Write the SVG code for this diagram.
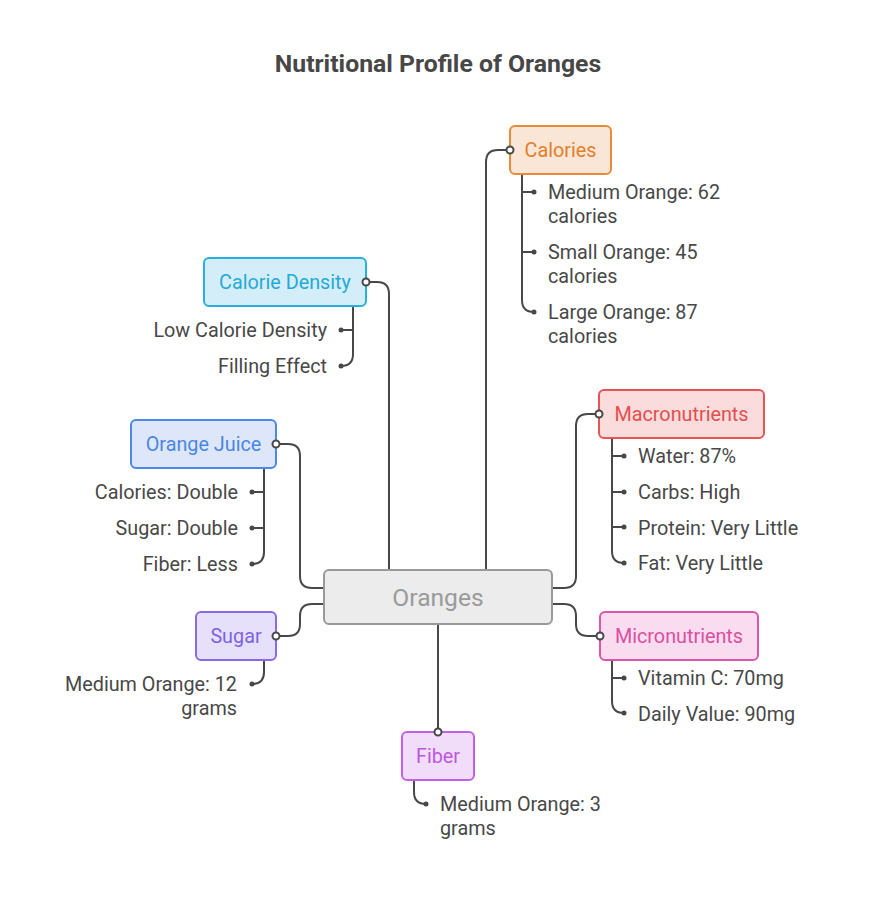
<svg xmlns="http://www.w3.org/2000/svg" width="876" height="918" viewBox="0 0 876 918">
<style>
text{font-family:Roboto,"Liberation Sans",sans-serif}
.title{font-size:24.8px;font-weight:bold;fill:#474747;text-anchor:middle}
.lbl{font-size:19.8px;text-anchor:middle}
.item{font-size:19.8px;fill:#484848}
.r{text-anchor:end}
.c{fill:none;stroke:#484848;stroke-width:2}
.hole{fill:#fff;stroke:#484848;stroke-width:2}
.dot{fill:#484848}
rect{stroke-width:2}
</style>
<rect width="876" height="918" fill="#fff" stroke="none"/>
<text class="title" x="438" y="72">Nutritional Profile of Oranges</text>
<g id="connectors">
<path class="c" d="M486,570 V162 Q486,150 498,150 H510"/>
<path class="c" d="M389,570 V294 Q389,282 377,282 H366"/>
<path class="c" d="M324,588 H312 Q300,588 300,576 V456 Q300,444 288,444 H276"/>
<path class="c" d="M552,588 H564 Q576,588 576,576 V426 Q576,414 588,414 H599"/>
<path class="c" d="M552,604 H564 Q576,604 576,616 V624 Q576,636 588,636 H600"/>
<path class="c" d="M324,604 H312 Q300,604 300,616 V624 Q300,636 288,636 H276"/>
<path class="c" d="M438,624 V732"/>
<path class="c" d="M522,174 V300 Q522,312 534,312 M522,192 H534 M522,252 H534"/>
<path class="c" d="M353,306 V354 Q353,366 341,366 M353,330 H341"/>
<path class="c" d="M264,468 V552 Q264,564 252,564 M264,492 H252 M264,528 H252"/>
<path class="c" d="M612,438 V551 Q612,563 624,563 M612,456 H624 M612,492 H624 M612,527 H624"/>
<path class="c" d="M612,660 V701 Q612,713 624,713 M612,678 H624"/>
<path class="c" d="M264,660 V672 Q264,684 252,684"/>
<path class="c" d="M414,780 V792 Q414,804 426,804"/>
<g class="dot">
<circle cx="534" cy="192" r="2.5"/><circle cx="534" cy="252" r="2.5"/><circle cx="534" cy="312" r="2.5"/>
<circle cx="341" cy="330" r="2.5"/><circle cx="341" cy="366" r="2.5"/>
<circle cx="252" cy="492" r="2.5"/><circle cx="252" cy="528" r="2.5"/><circle cx="252" cy="564" r="2.5"/>
<circle cx="624" cy="456" r="2.5"/><circle cx="624" cy="492" r="2.5"/><circle cx="624" cy="527" r="2.5"/><circle cx="624" cy="563" r="2.5"/>
<circle cx="624" cy="678" r="2.5"/><circle cx="624" cy="713" r="2.5"/>
<circle cx="252" cy="684" r="2.5"/>
<circle cx="426" cy="804" r="2.5"/>
</g>
</g>
<g id="oranges">
<rect x="324" y="570" width="228" height="54" rx="5" fill="#ececec" stroke="#999"/>
<text class="lbl" x="438" y="606" style="font-size:24.6px" fill="#9a9a9a">Oranges</text>
</g>
<g id="calories">
<rect x="510" y="126" width="101" height="48" rx="5" fill="#fae6d6" stroke="#e8893c"/>
<text class="lbl" x="560.5" y="157" fill="#e27f2a">Calories</text>
<circle class="hole" cx="510" cy="150" r="3.5"/>
<text class="item" x="548" y="199">Medium Orange: 62</text>
<text class="item" x="548" y="223">calories</text>
<text class="item" x="548" y="259">Small Orange: 45</text>
<text class="item" x="548" y="283">calories</text>
<text class="item" x="548" y="319">Large Orange: 87</text>
<text class="item" x="548" y="343">calories</text>
</g>
<g id="calorie-density">
<rect x="204" y="258" width="162" height="48" rx="5" fill="#d4eef9" stroke="#2aaedb"/>
<text class="lbl" x="285" y="289" fill="#25a9d7">Calorie Density</text>
<circle class="hole" cx="366" cy="282" r="3.5"/>
<text class="item r" x="327" y="337">Low Calorie Density</text>
<text class="item r" x="327" y="373">Filling Effect</text>
</g>
<g id="orange-juice">
<rect x="131" y="420" width="145" height="48" rx="5" fill="#dde7f9" stroke="#4a8ae8"/>
<text class="lbl" x="203.5" y="451" fill="#4a87e2">Orange Juice</text>
<circle class="hole" cx="276" cy="444" r="3.5"/>
<text class="item r" x="238" y="499">Calories: Double</text>
<text class="item r" x="238" y="535">Sugar: Double</text>
<text class="item r" x="238" y="571">Fiber: Less</text>
</g>
<g id="macronutrients">
<rect x="599" y="390" width="165" height="48" rx="5" fill="#fadcdc" stroke="#e65555"/>
<text class="lbl" x="681.5" y="421" fill="#e24f4f">Macronutrients</text>
<circle class="hole" cx="599" cy="414" r="3.5"/>
<text class="item" x="638" y="463">Water: 87%</text>
<text class="item" x="638" y="499">Carbs: High</text>
<text class="item" x="638" y="535">Protein: Very Little</text>
<text class="item" x="638" y="570">Fat: Very Little</text>
</g>
<g id="micronutrients">
<rect x="600" y="612" width="158" height="48" rx="5" fill="#f9dcef" stroke="#dc55a8"/>
<text class="lbl" x="679" y="643" fill="#d94fa2">Micronutrients</text>
<circle class="hole" cx="600" cy="636" r="3.5"/>
<text class="item" x="638" y="685">Vitamin C: 70mg</text>
<text class="item" x="638" y="721">Daily Value: 90mg</text>
</g>
<g id="sugar">
<rect x="196" y="612" width="80" height="48" rx="5" fill="#e6e0fb" stroke="#8a6ae8"/>
<text class="lbl" x="236" y="643" fill="#7f62e0">Sugar</text>
<circle class="hole" cx="276" cy="636" r="3.5"/>
<text class="item r" x="237" y="691">Medium Orange: 12</text>
<text class="item r" x="237" y="715">grams</text>
</g>
<g id="fiber">
<rect x="402" y="732" width="72" height="48" rx="5" fill="#f1dcfa" stroke="#c261e6"/>
<text class="lbl" x="438" y="763" fill="#ba59de">Fiber</text>
<circle class="hole" cx="438" cy="732" r="3.5"/>
<text class="item" x="440" y="811">Medium Orange: 3</text>
<text class="item" x="440" y="835">grams</text>
</g>
</svg>
